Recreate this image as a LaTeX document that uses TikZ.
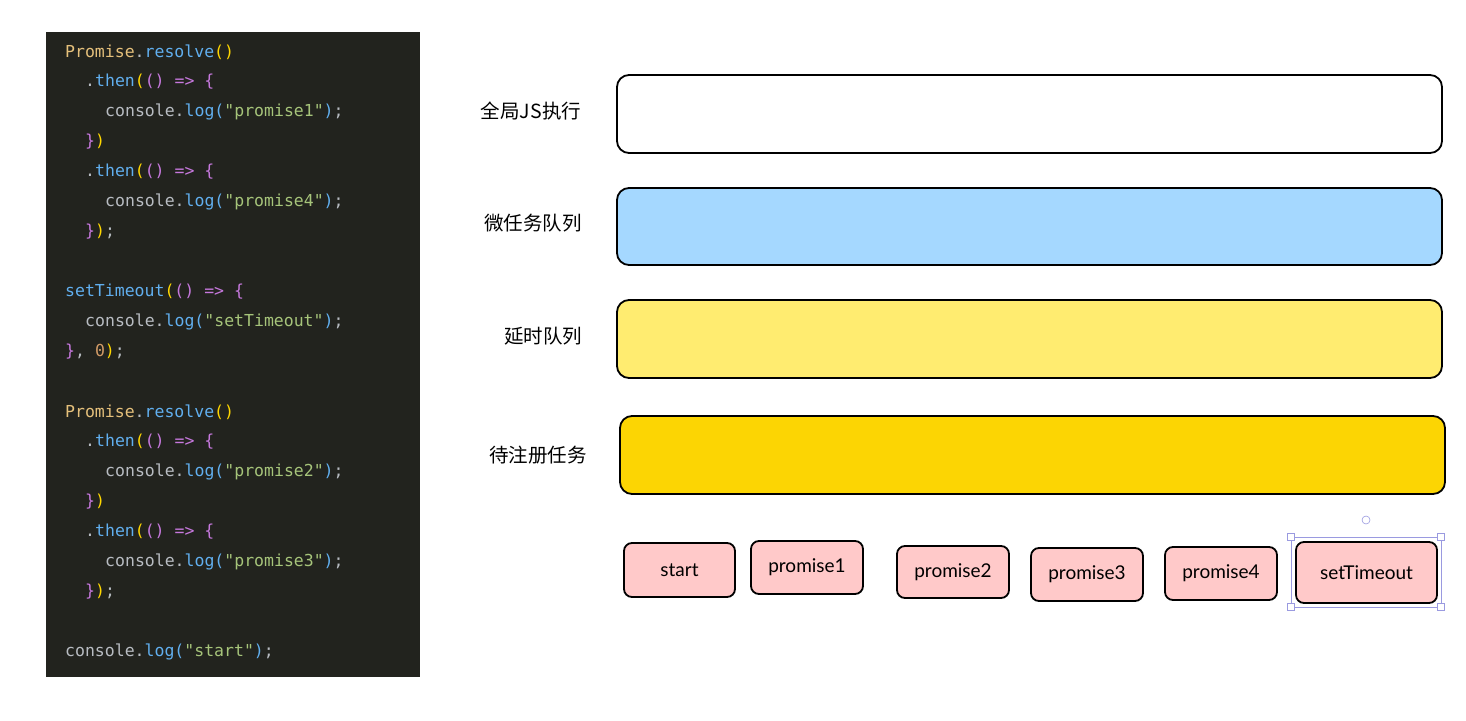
\documentclass[tikz,border=0pt]{standalone}
\usepackage{fontspec}
\setmonofont{DejaVu Sans Mono}
\setsansfont{Lato}
\newfontfamily\cjk{Noto Sans CJK SC}
\definecolor{codeBg}{HTML}{22231E}
\definecolor{codeGold}{HTML}{E5C07B}
\definecolor{codeBlue}{HTML}{61AFEF}
\definecolor{codeMag}{HTML}{C678DD}
\definecolor{codeYel}{HTML}{FFD700}
\definecolor{codeStr}{HTML}{A6C47A}
\definecolor{codeTxt}{HTML}{B8BCC2}
\definecolor{codeNum}{HTML}{D19A66}
\definecolor{qMicro}{HTML}{A5D8FF}
\definecolor{qTimer}{HTML}{FFEC70}
\definecolor{qPend}{HTML}{FCD503}
\definecolor{taskPink}{HTML}{FFC9C9}
\definecolor{selBlue}{HTML}{9A9AE0}
\usetikzlibrary{positioning}
\newcommand{\cg}[1]{\textcolor{codeGold}{#1}}
\newcommand{\cb}[1]{\textcolor{codeBlue}{#1}}
\newcommand{\cm}[1]{\textcolor{codeMag}{#1}}
\newcommand{\cy}[1]{\textcolor{codeYel}{#1}}
\newcommand{\cs}[1]{\textcolor{codeStr}{#1}}
\newcommand{\cn}[1]{\textcolor{codeNum}{#1}}

\begin{document}
\begin{tikzpicture}[x=1pt, y=-1pt,
  codeline/.style={anchor=west, inner sep=0pt, text=codeTxt, font=\ttfamily\fontsize{16.5}{18}\selectfont},
  qlabel/.style={font=\cjk\fontsize{19.5}{22}\selectfont},
  queue/.style={draw=black, line width=1.8pt, rounded corners=12pt},
  task/.style={draw=black, line width=1.8pt, rounded corners=8pt, fill=taskPink,
    font=\sffamily\fontsize{19}{22}\selectfont},
  handle/.style={draw=selBlue, fill=white, line width=0.6pt, minimum size=7pt, inner sep=0pt}]
  \useasboundingbox (0,0) rectangle (1466,720);

  % Code panel
  \fill[codeBg] (46,32) rectangle (420,677);
  \node[codeline] (l1)  at (65,52)  {\cg{Promise}.\cb{resolve}\cy{()}};
  \node[codeline] (l2)  at (85,82)  {.\cb{then}\cy{(}\cm{()} \cm{=>} \cm{\{}};
  \node[codeline] (l3)  at (105,112) {console.\cb{log}\cb{(}\cs{"promise1"}\cb{)};};
  \node[codeline] (l4)  at (85,142) {\cm{\}}\cy{)}};
  \node[codeline] (l5)  at (85,172) {.\cb{then}\cy{(}\cm{()} \cm{=>} \cm{\{}};
  \node[codeline] (l6)  at (105,202) {console.\cb{log}\cb{(}\cs{"promise4"}\cb{)};};
  \node[codeline] (l7)  at (85,232) {\cm{\}}\cy{)};};
  \node[codeline] (l8)  at (65,292) {\cb{setTimeout}\cy{(}\cm{()} \cm{=>} \cm{\{}};
  \node[codeline] (l9)  at (85,322) {console.\cb{log}\cb{(}\cs{"setTimeout"}\cb{)};};
  \node[codeline] (l10) at (65,352) {\cm{\}}, \cn{0}\cy{)};};
  \node[codeline] (l11) at (65,412) {\cg{Promise}.\cb{resolve}\cy{()}};
  \node[codeline] (l12) at (85,442) {.\cb{then}\cy{(}\cm{()} \cm{=>} \cm{\{}};
  \node[codeline] (l13) at (105,472) {console.\cb{log}\cb{(}\cs{"promise2"}\cb{)};};
  \node[codeline] (l14) at (85,502) {\cm{\}}\cy{)}};
  \node[codeline] (l15) at (85,532) {.\cb{then}\cy{(}\cm{()} \cm{=>} \cm{\{}};
  \node[codeline] (l16) at (105,562) {console.\cb{log}\cb{(}\cs{"promise3"}\cb{)};};
  \node[codeline] (l17) at (85,592) {\cm{\}}\cy{)};};
  \node[codeline] (l18) at (65,652) {console.\cb{log}\cb{(}\cs{"start"}\cb{)};};

  % Queues
  \draw[queue, fill=white]  (617,75)  rectangle (1442,153);
  \draw[queue, fill=qMicro] (617,188) rectangle (1442,265);
  \draw[queue, fill=qTimer] (617,300) rectangle (1442,378);
  \draw[queue, fill=qPend]  (620,416) rectangle (1445,494);
  \node[qlabel] (global) at (531,111) {全局JS执行};
  \node[qlabel] (micro)  at (533,223) {微任务队列};
  \node[qlabel] (timer)  at (543,336) {延时队列};
  \node[qlabel] (pend)   at (538,455) {待注册任务};

  % Tasks
  \node[task, minimum width=111pt, minimum height=54pt] (start) at (679.5,570) {start};
  \node[task, minimum width=112pt, minimum height=53pt] (p1) at (807,567.5) {promise1};
  \node[task, minimum width=112pt, minimum height=52pt] (p2) at (953,572) {promise2};
  \node[task, minimum width=112pt, minimum height=53pt] (p3) at (1087,574.5) {promise3};
  \node[task, minimum width=112pt, minimum height=53pt] (p4) at (1221,573.5) {promise4};
  \node[task, minimum width=141pt, minimum height=61pt] (st) at (1366.5,572.5) {setTimeout};

  % Selection frame
  \draw[selBlue, line width=0.8pt] (1291,537) rectangle (1441,607);
  \foreach \hx/\hy [count=\i] in {1291/537, 1441/537, 1291/607, 1441/607}
    \node[handle] (h\i) at (\hx,\hy) {};
  \node[handle, circle, minimum size=8pt] (rot) at (1366,520) {};
\end{tikzpicture}
\end{document}
